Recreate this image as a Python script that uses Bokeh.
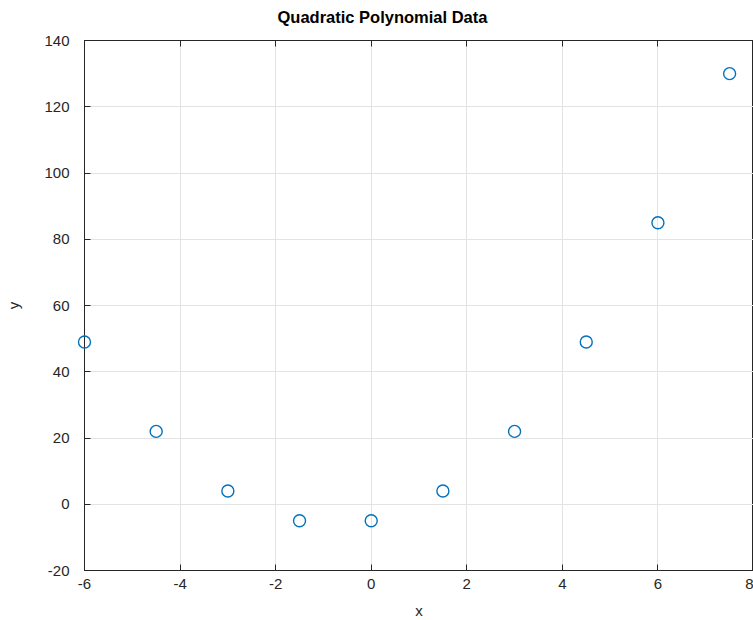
from bokeh.plotting import figure
from bokeh.models import (Range1d, SingleIntervalTicker, LinearAxis, Title,
                          NumeralTickFormatter, CustomJSTickFormatter)
from bokeh.embed import file_html
from bokeh.resources import INLINE

x_vals = [-6.0, -4.5, -3.0, -1.5, 0.0, 1.5, 3.0, 4.5, 6.0, 7.5]
y_vals = [49, 22, 4, -5, -5, 4, 22, 49, 85, 130]
x_lim = [-6, 8]
y_lim = [-20, 140]
title_text = "Quadratic Polynomial Data"
x_label = "x"
y_label = "y"

FONT = "Liberation Sans"
AX = "#262626"

p = figure(width=753, height=620, output_backend="svg", toolbar_location=None,
           x_range=Range1d(*x_lim), y_range=Range1d(*y_lim),
           min_border_left=84, min_border_right=0, min_border_top=40, min_border_bottom=50,
           title=None)
p.outline_line_color = AX
p.outline_line_width = 1
p.background_fill_color = "white"
p.border_fill_color = "white"

p.xaxis.ticker = SingleIntervalTicker(interval=2)
p.yaxis.ticker = SingleIntervalTicker(interval=20)
p.xaxis.formatter = NumeralTickFormatter(format="0")
p.yaxis.formatter = NumeralTickFormatter(format="0")
for ax in (p.xaxis[0], p.yaxis[0]):
    ax.axis_line_color = AX
    ax.major_tick_line_color = AX
    ax.major_tick_in = 6
    ax.major_tick_out = 0
    ax.minor_tick_line_color = None
    ax.major_label_text_font = FONT
    ax.major_label_text_font_size = "15px"
    ax.major_label_text_color = AX
p.xaxis.major_label_standoff = 4
p.yaxis.major_label_standoff = 11
p.yaxis.axis_label = y_label
p.yaxis.axis_label_standoff = 19
p.yaxis.axis_label_text_font = FONT
p.yaxis.axis_label_text_font_size = "15px"
p.yaxis.axis_label_text_font_style = "normal"
p.yaxis.axis_label_text_color = AX

blank = CustomJSTickFormatter(code="return ''")
top = LinearAxis(ticker=SingleIntervalTicker(interval=2), formatter=blank,
                 major_tick_in=6, major_tick_out=0, minor_tick_line_color=None,
                 axis_line_color=AX, major_tick_line_color=AX, major_label_standoff=0)
p.add_layout(top, "above")


def spacer(gap):
    # invisible axis used only to reserve room in a side panel
    return LinearAxis(ticker=SingleIntervalTicker(interval=2), formatter=blank,
                      major_tick_in=0, major_tick_out=gap, minor_tick_line_color=None,
                      axis_line_color=None, major_tick_line_color=None,
                      major_label_standoff=0)


p.add_layout(spacer(11), "above")
p.add_layout(spacer(8), "below")

p.xgrid.grid_line_color = "#e3e3e3"
p.ygrid.grid_line_color = "#e3e3e3"

p.scatter(x_vals, y_vals, marker="circle", size=12, fill_color=None,
          line_color="#0072BD", line_width=1.4, level="overlay")

p.add_layout(Title(text=title_text, align="left", offset=193, standoff=0,
                   text_font=FONT, text_font_size="16.5px", text_font_style="bold",
                   text_color="black"), "above")
p.add_layout(Title(text=x_label, align="center", standoff=0,
                   text_font=FONT, text_font_size="15px", text_font_style="normal",
                   text_color=AX), "below")

open("out.html", "w").write(file_html(p, INLINE))
